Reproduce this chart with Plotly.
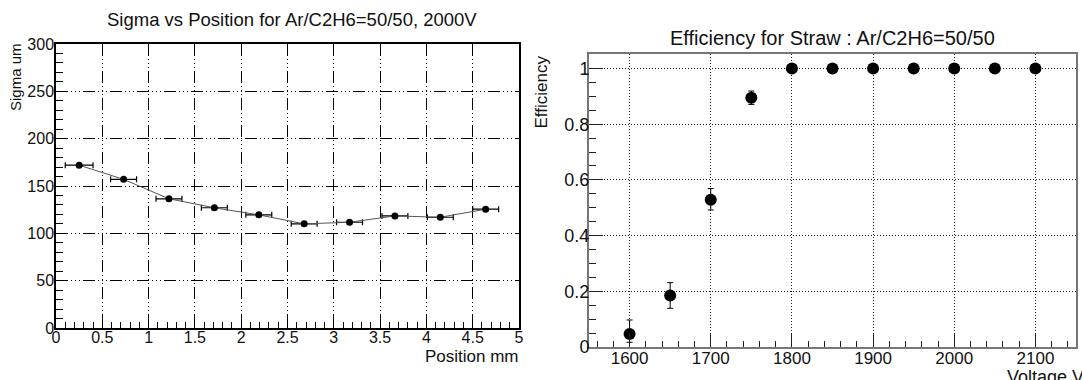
import plotly.graph_objects as go

# ---- Left panel data: Sigma vs Position ----
position_mm = [0.25, 0.73, 1.22, 1.71, 2.19, 2.68, 3.17, 3.66, 4.15, 4.64]
sigma_um = [172, 157, 136.5, 127, 119.5, 110, 111.7, 118.4, 117, 125.5]
position_err = [0.15, 0.14, 0.14, 0.14, 0.14, 0.14, 0.14, 0.14, 0.14, 0.14]

# ---- Right panel data: Efficiency vs Voltage ----
voltage_v = [1600, 1650, 1700, 1750, 1800, 1850, 1900, 1950, 2000, 2050, 2100]
efficiency = [0.047, 0.185, 0.529, 0.895, 1.0, 1.0, 1.0, 1.0, 1.0, 1.0, 1.0]
eff_err_up = [0.05, 0.046, 0.04, 0.024, 0.0, 0.0, 0.0, 0.0, 0.0, 0.0, 0.0]
eff_err_down = [0.03, 0.046, 0.037, 0.024, 0.0, 0.0, 0.0, 0.0, 0.0, 0.0, 0.0]

W, H = 1082, 380
FONT = "Liberation Sans, Arial, sans-serif"
TXT = "#111111"

def px_x(p):
    return p / W

def px_y(p):
    return 1 - p / H

fig = go.Figure()

fig.add_trace(go.Scatter(
    x=position_mm, y=sigma_um, mode="lines+markers",
    line=dict(color="#555555", width=1),
    marker=dict(color="black", size=7),
    error_x=dict(type="data", array=position_err, visible=True,
                 color="black", thickness=1.2, width=3),
    xaxis="x", yaxis="y", showlegend=False,
))

fig.add_trace(go.Scatter(
    x=voltage_v, y=efficiency, mode="markers",
    marker=dict(color="black", size=12),
    error_y=dict(type="data", symmetric=False, array=eff_err_up,
                 arrayminus=eff_err_down, visible=True,
                 color="black", thickness=1, width=3),
    xaxis="x2", yaxis="y2", showlegend=False,
))

left_grid = "12px,3px,1px,3px,1px,3px,1px,3px"
right_grid = "1px,2px"

common_left = dict(
    showline=True, linecolor="black", linewidth=1.5, mirror=True,
    showgrid=True, gridcolor="black", gridwidth=1, griddash=left_grid,
    ticks="inside", tickcolor="black", ticklen=12, tickwidth=1,
    tickfont=dict(family=FONT, size=16, color=TXT),
    zeroline=False, automargin=False,
)
common_right = dict(
    showline=True, linecolor="#777777", linewidth=2, mirror=True,
    showgrid=True, gridcolor="#222222", gridwidth=1, griddash=right_grid,
    ticks="inside", tickcolor="#222222", ticklen=14, tickwidth=1,
    zeroline=False, automargin=False,
)

fig.update_layout(
    width=W, height=H,
    margin=dict(l=0, r=0, t=0, b=0, autoexpand=False),
    paper_bgcolor="white", plot_bgcolor="white",
    xaxis=dict(domain=[px_x(56), px_x(519)], range=[0, 5], dtick=0.5, tick0=0,
               anchor="y", ticklabelstandoff=-6,
               minor=dict(ticks="inside", ticklen=6, dtick=0.1, tickcolor="black", showgrid=False),
               **common_left),
    yaxis=dict(domain=[px_y(328), px_y(44)], range=[0, 300], dtick=50, tick0=0,
               anchor="x", ticklabelstandoff=-3,
               minor=dict(ticks="inside", ticklen=7, dtick=10, tickcolor="black", showgrid=False),
               **common_left),
    xaxis2=dict(domain=[px_x(589), px_x(1076)], range=[1550, 2150], dtick=100, tick0=1600,
                anchor="y2", ticklabelstandoff=-5,
                tickfont=dict(family=FONT, size=17, color=TXT),
                minor=dict(ticks="inside", ticklen=6, dtick=20, tickcolor="#222222", showgrid=False),
                **common_right),
    yaxis2=dict(domain=[px_y(347), px_y(54)], range=[0, 1.052], dtick=0.2, tick0=0,
                anchor="x2", ticklabelstandoff=-6,
                tickfont=dict(family=FONT, size=18, color=TXT),
                minor=dict(ticks="inside", ticklen=7, dtick=0.05, tickcolor="#222222", showgrid=False),
                **common_right),
    annotations=[
        dict(text="Sigma vs Position for Ar/C2H6=50/50, 2000V", x=px_x(292), y=px_y(20),
             xref="paper", yref="paper", xanchor="center", yanchor="middle",
             showarrow=False, font=dict(family=FONT, size=18.5, color=TXT)),
        dict(text="Position mm", x=px_x(521), y=px_y(356),
             xref="paper", yref="paper", xanchor="right", yanchor="middle",
             showarrow=False, font=dict(family=FONT, size=17, color=TXT)),
        dict(text="Sigma um", x=px_x(15), y=px_y(41), textangle=-90,
             xref="paper", yref="paper", xanchor="center", yanchor="top",
             showarrow=False, font=dict(family=FONT, size=15, color=TXT)),
        dict(text="Efficiency for Straw : Ar/C2H6=50/50", x=px_x(832), y=px_y(38),
             xref="paper", yref="paper", xanchor="center", yanchor="middle",
             showarrow=False, font=dict(family=FONT, size=20, color=TXT)),
        dict(text="Efficiency", x=px_x(541), y=px_y(54), textangle=-90,
             xref="paper", yref="paper", xanchor="center", yanchor="top",
             showarrow=False, font=dict(family=FONT, size=17, color=TXT)),
        dict(text="Voltage V", x=px_x(1086), y=px_y(377),
             xref="paper", yref="paper", xanchor="right", yanchor="middle",
             showarrow=False, font=dict(family=FONT, size=18, color=TXT)),
    ],
)

fig.write_html("out.html", config={"displayModeBar": False},
               post_script="document.body.style.margin='0';")
